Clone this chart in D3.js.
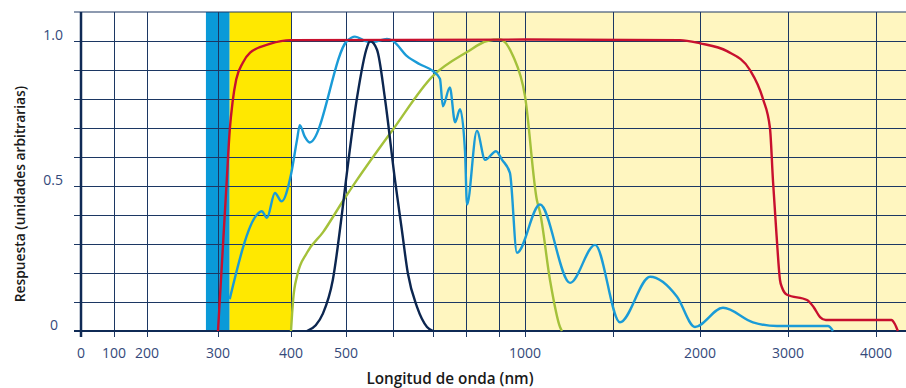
<!DOCTYPE html>
<html>
<head>
<meta charset="utf-8">
<script src="https://cdnjs.cloudflare.com/ajax/libs/d3/7.8.5/d3.min.js"></script>
<style>
  body { margin: 0; background: #fff; }
  svg { display: block; font-family: 'Open Sans', 'Noto Sans', sans-serif; }
</style>
</head>
<body>
<div id="chart"></div>
<script>
// wavelength (nm) where vertical grid lines sit, and the ones carrying a label
const gridNm = [0, 100, 200, 300, 400, 500, 600, 700, 800, 900, 1000, 1500, 2000, 3000, 4000];
const labelNm = [0, 100, 200, 300, 400, 500, 1000, 2000, 3000, 4000];
const yTicks = [0, 0.1, 0.2, 0.3, 0.4, 0.5, 0.6, 0.7, 0.8, 0.9, 1.0];
const yLabels = [0, 0.5, 1.0];

// spectral bands [from, to] in nm
const uvBand = [283, 316];
const visBand = [316, 400];
const irBand = [700, 4300];

// curves: [nm, response]
const redCurve = [
  [300, 0], [306, 0.26], [312, 0.52], [316, 0.69], [320, 0.79], [325, 0.868], [334, 0.925],
  [344, 0.96], [371, 0.99], [400, 1.003], [1000, 1.005], [1885, 1.003], [2000, 0.992],
  [2307, 0.965], [2568, 0.9], [2716, 0.8], [2795, 0.7], [2829, 0.52], [2870, 0.33],
  [2909, 0.176], [2932, 0.15], [2989, 0.125], [3216, 0.107], [3290, 0.083], [3364, 0.048],
  [3430, 0.038], [4136, 0.038], [4165, 0.025], [4193, 0]
];
const blueCurve = [
  [316, 0.11], [353, 0.40], [360, 0.413], [367, 0.39], [378, 0.476], [387, 0.447], [400, 0.54],
  [411, 0.66], [416, 0.71], [425, 0.67], [434, 0.65], [502, 1.0], [519, 1.015], [545, 0.998],
  [558, 0.997], [587, 1.007], [600, 1.0], [635, 0.948], [667, 0.92], [700, 0.896], [721, 0.87],
  [730, 0.775], [751, 0.84], [767, 0.72], [782, 0.765], [797, 0.62], [803, 0.436], [833, 0.69],
  [858, 0.59], [891, 0.62], [912, 0.59], [942, 0.545], [969, 0.27], [1085, 0.436], [1256, 0.166],
  [1398, 0.297], [1540, 0.03], [1713, 0.187], [1868, 0.118], [1971, 0.014], [2261, 0.08],
  [2602, 0.03], [2875, 0.017], [3454, 0.017], [3511, 0]
];
const greenCurve = [
  [400, 0], [402, 0.06], [404, 0.11], [411, 0.19], [429, 0.27], [458, 0.34], [495, 0.45],
  [523, 0.52], [600, 0.695], [700, 0.88], [803, 0.962], [864, 1.0], [904, 1.005], [954, 0.948],
  [1000, 0.81], [1068, 0.45], [1085, 0.41], [1142, 0.176], [1199, 0.014], [1210, 0]
];
const navyCurve = [
  [429, 0], [445, 0.02], [458, 0.06], [476, 0.176], [493, 0.41], [500, 0.52], [523, 0.8],
  [545, 0.98], [551, 1.0], [566, 0.97], [583, 0.8], [605, 0.52], [622, 0.35], [637, 0.2],
  [660, 0.083], [685, 0.014], [700, 0]
];

const width = 906, height = 388;
const plotTop = 12, plotBottom = 331, plotLeft = 81;

const svg = d3.select('#chart').append('svg')
  .attr('width', width)
  .attr('height', height);

// the wavelength axis is stretched piecewise, like the original drawing
const x = d3.scaleLinear()
  .domain([0, 100, 200, 300, 400, 500, 600, 700, 800, 900, 1000, 1500, 2000, 3000, 4000, 4300])
  .range([81, 114, 147, 218, 291, 346, 393, 433, 466, 499, 525, 613, 700, 788, 876, 910])
  .clamp(true);

const y = d3.scaleLinear()
  .domain([0, 1.1])
  .range([plotBottom, plotTop]);

const band = (r, color) => svg.append('rect')
  .attr('x', x(r[0]))
  .attr('y', plotTop)
  .attr('width', x(r[1]) - x(r[0]))
  .attr('height', plotBottom - plotTop)
  .attr('fill', color);

band(irBand, '#fff6c0');
band(uvBand, '#0a9ad8');
band(visBand, '#ffe800');

const gridColor = '#1c3763';

// horizontal grid
svg.append('g')
  .attr('transform', `translate(${plotLeft},0)`)
  .call(d3.axisLeft(y).tickValues(yTicks).tickSize(-(width - plotLeft)).tickFormat(''))
  .call(g => g.select('.domain').remove())
  .call(g => g.selectAll('.tick line')
    .attr('x1', -7)
    .attr('stroke', gridColor)
    .attr('stroke-width', 1));

// top border
svg.append('line')
  .attr('x1', plotLeft - 7).attr('x2', width)
  .attr('y1', y(1.1)).attr('y2', y(1.1))
  .attr('stroke', gridColor).attr('stroke-width', 1.2);

// vertical grid
svg.append('g')
  .attr('transform', `translate(0,${plotBottom})`)
  .call(d3.axisBottom(x).tickValues(gridNm).tickSize(-(plotBottom - plotTop)).tickFormat(''))
  .call(g => g.select('.domain').remove())
  .call(g => g.selectAll('.tick line')
    .attr('y1', 6)
    .attr('stroke', gridColor)
    .attr('stroke-width', 1));

// axis lines
svg.append('line')
  .attr('x1', plotLeft).attr('x2', plotLeft)
  .attr('y1', plotTop).attr('y2', plotBottom + 6)
  .attr('stroke', '#0f2a55').attr('stroke-width', 2.5);
svg.append('line')
  .attr('x1', plotLeft - 7).attr('x2', width)
  .attr('y1', plotBottom).attr('y2', plotBottom)
  .attr('stroke', '#0f2a55').attr('stroke-width', 2.2);

const line = d3.line()
  .x(d => x(d[0]))
  .y(d => y(d[1]))
  .curve(d3.curveMonotoneX);

const drawCurve = (data, color) => svg.append('path')
  .datum(data)
  .attr('fill', 'none')
  .attr('stroke', color)
  .attr('stroke-width', 2.4)
  .attr('stroke-linejoin', 'round')
  .attr('d', line);

drawCurve(greenCurve, '#a4c13a');
drawCurve(blueCurve, '#1a9bd7');
drawCurve(navyCurve, '#0c2650');
drawCurve(redCurve, '#c8102e');

// tick labels
const labelColor = '#34497a';
svg.append('g')
  .selectAll('text')
  .data(labelNm)
  .enter().append('text')
  .attr('x', d => x(d))
  .attr('y', 358)
  .attr('text-anchor', 'middle')
  .attr('font-size', 14)
  .attr('fill', labelColor)
  .text(d => d);

svg.append('g')
  .selectAll('text')
  .data(yLabels)
  .enter().append('text')
  .attr('x', d => d === 0 ? 58 : 63)
  .attr('y', d => y(d) - 1)
  .attr('text-anchor', 'end')
  .attr('font-size', 14)
  .attr('fill', labelColor)
  .text(d => d === 0 ? '0' : d.toFixed(1));

// axis titles
svg.append('text')
  .attr('x', 450)
  .attr('y', 384)
  .attr('text-anchor', 'middle')
  .attr('font-size', 15.3)
  .attr('font-weight', 600)
  .attr('fill', '#1a1a1a')
  .text('Longitud de onda (nm)');

svg.append('text')
  .attr('transform', 'translate(25,194) rotate(-90)')
  .attr('text-anchor', 'middle')
  .attr('font-size', 13.8)
  .attr('font-weight', 600)
  .attr('fill', '#1a1a1a')
  .text('Respuesta (unidades arbitrarias)');
</script>
</body>
</html>
